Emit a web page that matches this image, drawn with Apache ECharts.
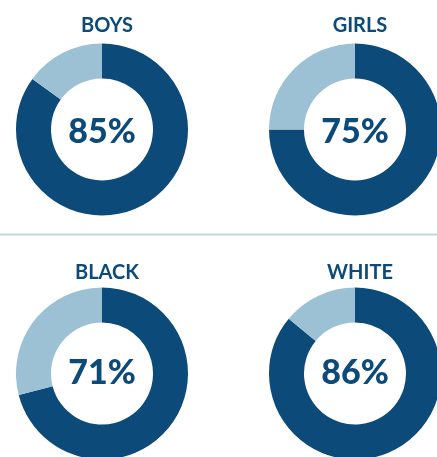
<!DOCTYPE html>
<html lang="en">
<head>
    <meta charset="UTF-8">
    <title>Donuts</title>
    <script src="https://cdn.jsdelivr.net/npm/echarts@6/dist/echarts.min.js"></script>
    <style>
        html, body { margin: 0; padding: 0; background: #fff; }
        #main { width: 437px; height: 457px; }
    </style>
</head>
<body>
<div id="main"></div>
<script type="text/javascript">
    // data
    var groups = ['BOYS', 'GIRLS', 'BLACK', 'WHITE'];
    var percents = [85, 75, 71, 86];

    var centers = [[102, 129.5], [355, 129.5], [102, 373.5], [355, 373.5]];
    var titleY = [21, 21, 268, 268];
    var labelShift = [3, 3, 0, 0];
    var dark = '#0c4a7a';
    var light = '#9dc1d4';

    var myChart = echarts.init(document.getElementById('main'));

    var titles = [];
    var series = [];
    groups.forEach(function (g, i) {
        titles.push({
            text: g,
            left: centers[i][0],
            top: titleY[i],
            textAlign: 'center',
            textVerticalAlign: 'middle',
            textStyle: { fontFamily: 'Lato', fontWeight: 'bold', fontSize: 20, color: dark }
        });
        series.push({
            type: 'pie',
            center: centers[i],
            radius: [51, 86],
            startAngle: 90,
            clockwise: true,
            silent: true,
            animation: false,
            label: {
                show: true,
                position: 'center',
                offset: [0, labelShift[i]],
                formatter: function (p) { return p.dataIndex === 0 ? p.value + '%' : ''; },
                fontFamily: 'Lato',
                fontWeight: 900,
                fontSize: 34,
                color: dark
            },
            labelLine: { show: false },
            itemStyle: { borderWidth: 0 },
            data: [
                { value: percents[i], itemStyle: { color: dark } },
                { value: 100 - percents[i], itemStyle: { color: light }, label: { show: false } }
            ]
        });
    });

    var option = {
        backgroundColor: '#fff',
        title: titles,
        graphic: [{
            type: 'line',
            shape: { x1: 0, y1: 234.5, x2: 437, y2: 234.5 },
            style: { stroke: '#c8d6e3', lineWidth: 2 }
        }],
        series: series
    };

    myChart.setOption(option);
</script>
</body>
</html>
